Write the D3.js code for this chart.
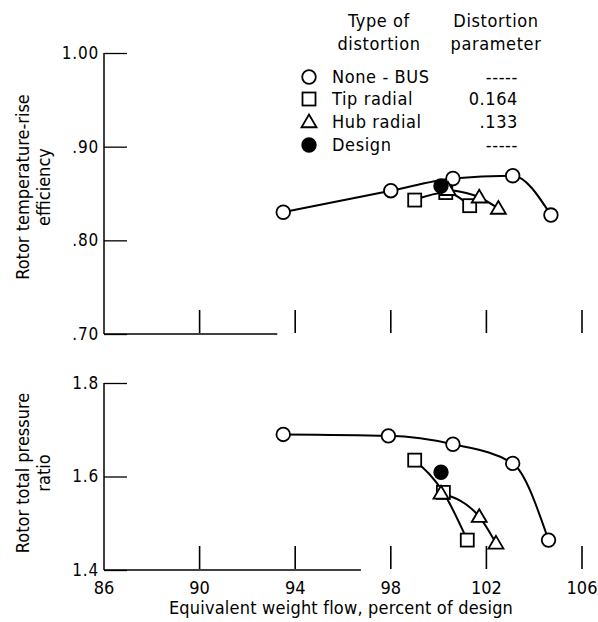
<!DOCTYPE html>
<html><head><meta charset="utf-8">
<script src="https://cdn.jsdelivr.net/npm/d3@7"></script>
<style>
body{margin:0;background:#fff;}
text{font-family:"DejaVu Sans Condensed","Liberation Sans Narrow",sans-serif;fill:#000;}
</style></head>
<body><svg id="c" width="598" height="622"></svg>
<script>
// ---- data ----
const xTicks = [86, 90, 94, 98, 102, 106];
const effTicks = [0.70, 0.80, 0.90, 1.00];
const effTickLabels = [".70", ".80", ".90", "1.00"];
const prTicks = [1.4, 1.6, 1.8];
const prTickLabels = ["1.4", "1.6", "1.8"];

const noneFlow = [93.5, 98.0, 100.6, 103.1, 104.7];
const noneEff  = [0.830, 0.853, 0.866, 0.869, 0.827];
const tipFlowE = [99.0, 100.3, 101.3];
const tipEff   = [0.843, 0.851, 0.837];
const hubFlowE = [100.4, 101.7, 102.5];
const hubEff   = [0.854, 0.846, 0.834];
const designFlowE = [100.1];
const designEff   = [0.858];

const noneFlowP = [93.5, 97.9, 100.6, 103.1, 104.6];
const nonePR    = [1.690, 1.687, 1.669, 1.628, 1.464];
const tipFlowP  = [99.0, 100.2, 101.2];
const tipPR     = [1.635, 1.566, 1.464];
const hubFlowP  = [100.1, 101.7, 102.4];
const hubPR     = [1.564, 1.514, 1.457];
const designFlowP = [100.1];
const designPR    = [1.609];

const legendTypes = ["None - BUS", "Tip radial", "Hub radial", "Design"];
const legendParams = ["-----", "0.164", ".133", "-----"];
const legendSymbols = ["circle", "square", "triangle", "filled"];

// ---- drawing ----
const svg = d3.select("#c");
const x = d3.scaleLinear().domain([86, 106]).range([104, 582]);
const yE = d3.scaleLinear().domain([0.70, 1.00]).range([334, 53]);
const yP = d3.scaleLinear().domain([1.4, 1.8]).range([570, 383]);
const FS = 18;

function sym(g, type, cx, cy) {
  if (type === "circle" || type === "filled") {
    g.append("circle").attr("cx", cx).attr("cy", cy).attr("r", 6.8)
      .attr("fill", type === "filled" ? "#000" : "#fff").attr("stroke", "#000").attr("stroke-width", 1.8);
  } else if (type === "square") {
    g.append("rect").attr("x", cx - 6.5).attr("y", cy - 6.5).attr("width", 13).attr("height", 13)
      .attr("fill", "#fff").attr("stroke", "#000").attr("stroke-width", 1.8);
  } else {
    const s = 7.5;
    g.append("path").attr("d", `M${cx},${cy - s}L${cx + s},${cy + s * 0.7}L${cx - s},${cy + s * 0.7}Z`)
      .attr("fill", "#fff").attr("stroke", "#000").attr("stroke-width", 1.8).attr("stroke-linejoin", "miter");
  }
}

function panel(y, ticks, labels, lineEnd, tickTop, showX, series) {
  const g = svg.append("g");
  // y axis
  const ya = d3.axisLeft(y).tickValues(ticks).tickFormat((d, i) => labels[i]).tickSize(-23).tickPadding(5);
  const ag = g.append("g").attr("transform", "translate(104,0)").call(ya);
  ag.select(".domain").remove();
  ag.selectAll(".tick line").attr("stroke", "#000").attr("stroke-width", 1.3);
  ag.selectAll(".tick text").attr("font-size", 17).attr("letter-spacing", 0.8).attr("fill", "#000")
    .attr("font-family", '"DejaVu Sans Condensed","Liberation Sans Narrow",sans-serif');
  g.append("line").attr("x1", 104).attr("x2", 104).attr("y1", y.range()[1]).attr("y2", y.range()[0])
    .attr("stroke", "#000").attr("stroke-width", 1.5);
  // x axis line (partial)
  g.append("line").attr("x1", 104).attr("x2", x(lineEnd)).attr("y1", y.range()[0]).attr("y2", y.range()[0])
    .attr("stroke", "#000").attr("stroke-width", 1.5);
  // x ticks
  g.selectAll(".xt").data(xTicks.slice(1)).enter().append("line")
    .attr("x1", d => x(d)).attr("x2", d => x(d)).attr("y1", y.range()[0] - tickTop).attr("y2", y.range()[0] - 1)
    .attr("stroke", "#000").attr("stroke-width", 1.6);
  if (showX) {
    g.selectAll(".xl").data(xTicks).enter().append("text")
      .attr("x", d => x(d)).attr("y", y.range()[0] + 24).attr("text-anchor", "middle")
      .attr("font-size", FS).text(d => d);
  }
  const line = d3.line().x(d => x(d[0])).y(d => y(d[1])).curve(d3.curveMonotoneX);
  series.forEach(s => {
    const pts = s.xs.map((v, i) => [v, s.ys[i]]);
    if (s.type !== "filled") {
      g.append("path").attr("d", line(pts)).attr("fill", "none").attr("stroke", "#000").attr("stroke-width", 2);
    }
  });
  series.forEach(s => {
    s.xs.forEach((v, i) => sym(g, s.type, x(v), y(s.ys[i])));
  });
}

panel(yE, effTicks, effTickLabels, 93.25, 24, false, [
  {xs: noneFlow, ys: noneEff, type: "circle"},
  {xs: tipFlowE, ys: tipEff, type: "square"},
  {xs: hubFlowE, ys: hubEff, type: "triangle"},
  {xs: designFlowE, ys: designEff, type: "filled"}
]);
panel(yP, prTicks, prTickLabels, 96.75, 24, true, [
  {xs: noneFlowP, ys: nonePR, type: "circle"},
  {xs: tipFlowP, ys: tipPR, type: "square"},
  {xs: hubFlowP, ys: hubPR, type: "triangle"},
  {xs: designFlowP, ys: designPR, type: "filled"}
]);

// axis titles
svg.append("text").attr("x", 341).attr("y", 614).attr("text-anchor", "middle").attr("font-size", FS)
  .attr("letter-spacing", 0.2).text("Equivalent weight flow,  percent of design");
function ytitle(lines, cy) {
  const t = svg.append("text").attr("transform", `translate(0,${cy}) rotate(-90)`).attr("text-anchor", "middle").attr("font-size", FS);
  lines.forEach((l, i) => t.append("tspan").attr("x", 0).attr("y", 29 + i * 21).text(l));
}
ytitle(["Rotor temperature-rise", "efficiency"], 187);
ytitle(["Rotor total pressure", "ratio"], 473);

// legend
const lg = svg.append("g").attr("font-size", FS);
lg.append("text").attr("x", 379).attr("y", 27).attr("text-anchor", "middle").attr("letter-spacing", 0.6).text("Type of");
lg.append("text").attr("x", 379).attr("y", 50).attr("text-anchor", "middle").attr("letter-spacing", 0.6).text("distortion");
lg.append("text").attr("x", 496).attr("y", 27).attr("text-anchor", "middle").attr("letter-spacing", 0.6).text("Distortion");
lg.append("text").attr("x", 496).attr("y", 50).attr("text-anchor", "middle").attr("letter-spacing", 0.6).text("parameter");
const rowY = [83, 105, 128, 151];
legendTypes.forEach((t, i) => {
  sym(lg, legendSymbols[i], 309, rowY[i] - 6);
  lg.append("text").attr("x", 332).attr("y", rowY[i]).attr("letter-spacing", 0.6).text(t);
  lg.append("text").attr("x", 518).attr("y", rowY[i]).attr("text-anchor", "end").attr("letter-spacing", 0.6).text(legendParams[i]);
});
</script></body></html>
